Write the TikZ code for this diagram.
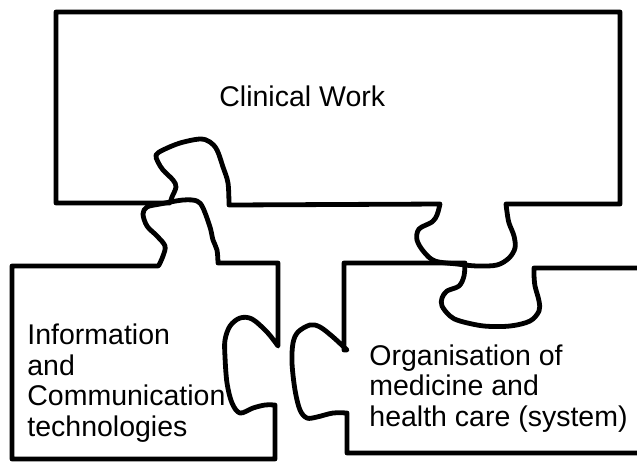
\documentclass[tikz,border=0pt]{standalone}
\usepackage{fontspec}
\setmainfont{Liberation Sans}
\tikzset{
  piece/.style={line width=2.4pt, line join=round},
  piecetext/.style={anchor=base west, align=left, inner sep=0pt,
    font=\fontsize{14.25pt}{15.25pt}\selectfont}
}
\begin{document}
\begin{tikzpicture}[x=0.5pt,y=-0.5pt]
    \useasboundingbox (0,0) rectangle (637,463);

    % clinical work
    \draw[piece] (56,12) -- (620,12) -- (620,204) -- (506,204)
      -- plot[smooth, tension=0.55] coordinates {(506,204) (507,212) (509,223) (514,236) (515,248) (509,258) (497,265) (477,266) (457,264) (435,261) (424,252) (417,240) (419,229) (432,222) (437,215) (440,204)}
      -- (229,205)
      -- plot[smooth, tension=0.55] coordinates {(229,205) (228,183) (223,167) (217,150) (210,142) (200,139) (180,143) (163,150) (156,155) (158,162) (163,170) (173,180) (176,187) (172,197) (170,203)}
      -- (56,203) -- cycle;

    % information and communication technologies
    \draw[piece] (12,266) -- (158,266)
      -- plot[smooth, tension=0.55] coordinates {(159,265) (163,256) (165,246) (157,236) (147,226) (143,214) (147,207) (160,204) (183,200) (197,201) (203,208) (210,227) (213,240) (217,250) (218,263)}
      -- (278,263) -- (278,346)
      -- plot[smooth, tension=0.55] coordinates {(278,346) (267,332) (252,319) (240,318) (230,326) (225,340) (225,357) (227,383) (232,403) (240,413) (253,408) (265,405) (275,405)}
      -- (275,459) -- (12,459) -- cycle;

    % organisation of medicine
    \draw[piece] (645,268) -- (534,268)
      -- plot[smooth, tension=0.55] coordinates {(534,268) (534,275) (535,286) (539,301) (539,311) (530,321) (510,326) (484,326) (460,321) (450,316) (442,306) (442,298) (447,291) (459,286) (464,276) (465,263)}
      -- (344,263) -- (344,350)
      -- plot[smooth, tension=0.55] coordinates {(347,350) (333,337) (320,327) (310,325) (298,332) (293,343) (292,363) (295,390) (300,410) (307,418) (317,417) (333,413) (347,413)}
      -- (347,453) -- (645,453);

    % multi-line nodes sit on the baseline of their last line
    \node[piecetext] (clinical) at (219,106) {Clinical Work};
    \node[piecetext] (ict) at (27,436) {Information\\and\\Communication\\technologies};
    \node[piecetext] (org) at (369,426) {Organisation of\\medicine and\\health care (system)};
\end{tikzpicture}
\end{document}
